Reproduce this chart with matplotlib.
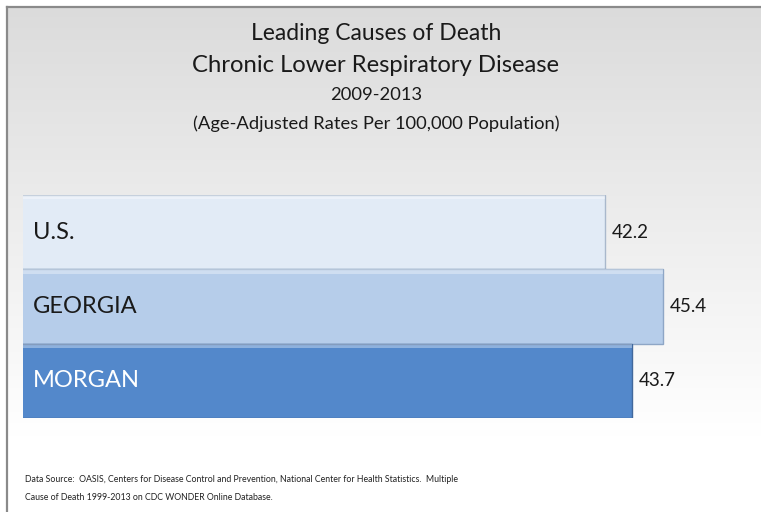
import numpy as np
import matplotlib
matplotlib.use("Agg")
import matplotlib.pyplot as plt

categories = ["U.S.", "GEORGIA", "MORGAN"]
values = [42.2, 45.4, 43.7]
value_labels = ["42.2", "45.4", "43.7"]
title_lines = ["Leading Causes of Death", "Chronic Lower Respiratory Disease", "2009-2013",
               "(Age-Adjusted Rates Per 100,000 Population)"]
footnote_lines = ["Data Source:  OASIS, Centers for Disease Control and Prevention, National Center for Health Statistics.  Multiple",
                  "Cause of Death 1999-2013 on CDC WONDER Online Database."]

bar_colors = ["#e2ebf6", "#b6cdea", "#5388cb"]
edge_colors = ["#a9b8cc", "#8ea6c6", "#41689c"]
text_colors = ["#1a1a1a", "#1a1a1a", "#ffffff"]

plt.rcParams['font.family'] = ['Lato', 'DejaVu Sans']

W, H = 761, 512
fig = plt.figure(figsize=(W / 100, H / 100), dpi=100)
fig.patch.set_facecolor("white")

# background gradient panel
bg = fig.add_axes([0, 0, 1, 1])
bg.set_xlim(0, W)
bg.set_ylim(H, 0)
bg.axis("off")
grad = np.linspace(0, 1, 256).reshape(-1, 1)
top = np.array([0.86, 0.86, 0.86])
bot = np.array([1.0, 1.0, 1.0])
t = np.clip(grad / 0.85, 0, 1)
img = top[None, None, :] * (1 - t[..., None]) + bot[None, None, :] * t[..., None]
bg.imshow(img, extent=[7, W, H, 7], aspect="auto", zorder=0)
bg.plot([7, W], [7, 7], color="#8a8a8a", lw=1.6, zorder=1)
bg.plot([7, 7], [7, H], color="#8a8a8a", lw=1.6, zorder=1)

# title
ys = [33, 65, 95, 124]
sizes = [16.5, 17.2, 13.2, 13.2]
for line, y, s in zip(title_lines, ys, sizes):
    bg.text(376, y, line, ha="center", va="center", fontsize=s, color="#1a1a1a", zorder=3)

for line, y in zip(footnote_lines, [479, 497]):
    bg.text(25, y, line, ha="left", va="center", fontsize=6.3, color="#222222", zorder=3)

# bar axes: value axis starts at 10 (left edge 23px), 45.4 ends at 663px
x0, x1 = 23, W
y_top, y_bot = 195, 418
xmin = 10.0
px_per_unit = (663 - 23) / (45.4 - xmin)
ax = fig.add_axes([x0 / W, 1 - y_bot / H, (x1 - x0) / W, (y_bot - y_top) / H])
ax.patch.set_alpha(0)
ax.set_xlim(xmin, xmin + (x1 - x0) / px_per_unit)
ax.set_ylim(2.5, -0.5)
ax.axis("off")
ypos = np.arange(len(categories))
ax.barh(ypos, values, height=1.0, color=bar_colors, edgecolor=edge_colors, linewidth=1.0, zorder=2)
ax.barh(ypos - 0.47, values, height=0.06, color="white", alpha=0.35, linewidth=0, zorder=3)
for i, (cat, v, lab) in enumerate(zip(categories, values, value_labels)):
    ax.text(xmin + 0.55, i, cat, ha="left", va="center", fontsize=17, color=text_colors[i], zorder=4)
    ax.text(v + 0.38, i, lab, ha="left", va="center", fontsize=13.5, color="#1a1a1a", zorder=4)

fig.savefig("out.png", dpi=100)
